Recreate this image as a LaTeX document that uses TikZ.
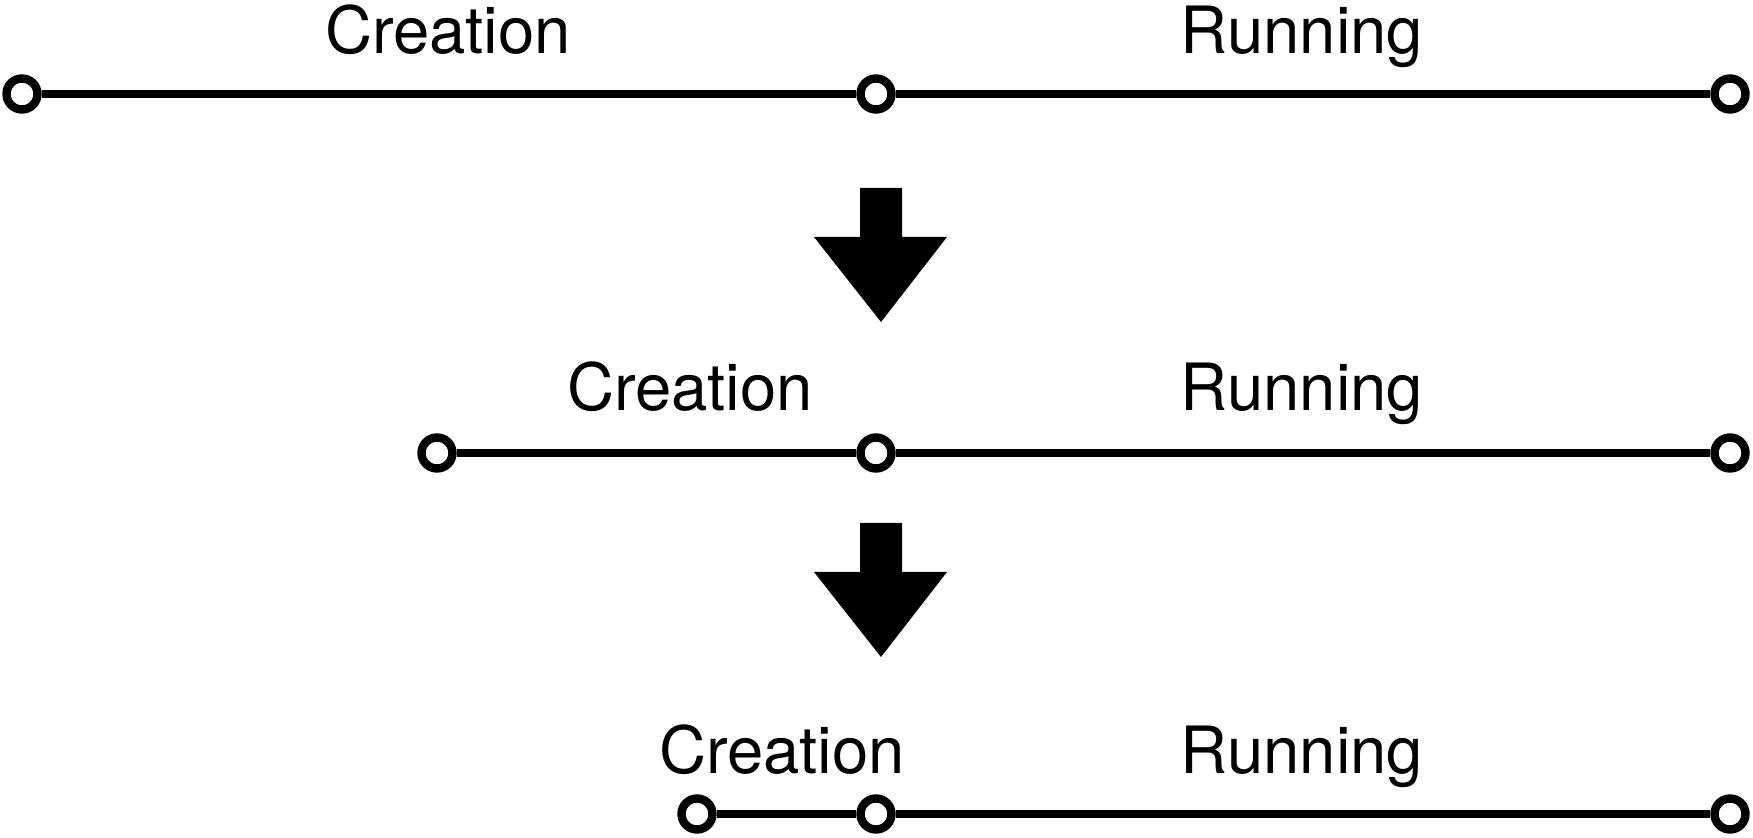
\documentclass[tikz,border=0pt]{standalone}
\usepackage{fontspec}
\setmainfont{TeX Gyre Heros}
\usetikzlibrary{positioning}

\tikzset{
  dot/.style={circle,draw,fill=white,line width=4.2pt,inner sep=0pt,minimum size=15.5pt},
  phase/.style={anchor=base,font=\fontsize{32.6}{38}\selectfont},
  bar/.style={line width=4.2pt}
}

\begin{document}
\begin{tikzpicture}[x=0.5pt,y=-0.5pt]
    \useasboundingbox (0,0) rectangle (1753,838);

    % three timelines: start, switch point, end
    \foreach \r/\xs/\y/\xc/\yt in {1/22/94/448/54,2/437/453/690/411,3/697/814/782/774}
    {
      \node[dot] (s\r) at (\xs,\y) {};
      \node[dot] (m\r) at (876,\y) {};
      \node[dot] (e\r) at (1730,\y) {};
      \draw[bar] (s\r) -- (m\r);
      \draw[bar] (m\r) -- (e\r);
      \node[phase] (cre\r) at (\xc,\yt) {Creation};
      \node[phase] (run\r) at (1302,\yt) {Running};
    }

    % block arrows between the timelines
    \foreach \yt in {188,523}
    \fill (860,\yt) -- (902,\yt) -- (902,\yt+49) -- (947,\yt+49)
      -- (881,\yt+134) -- (814,\yt+49) -- (860,\yt+49) -- cycle;

  \end{tikzpicture}
\end{document}
